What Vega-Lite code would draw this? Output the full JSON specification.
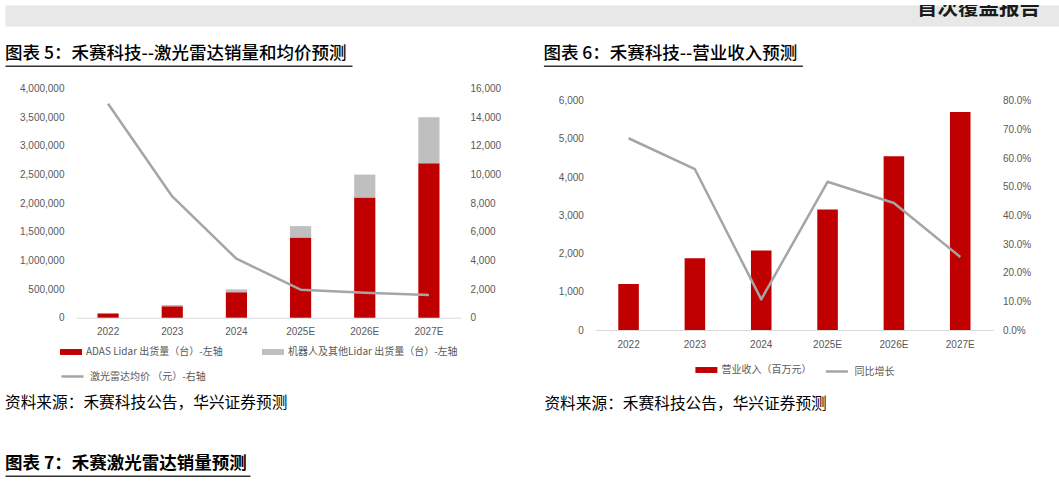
{
  "$schema": "https://vega.github.io/schema/vega-lite/v6.json",
  "background": "white",
  "padding": {"left": 5, "top": 5, "right": 0, "bottom": 0},
  "config": {
    "view": {"stroke": null},
    "font": "Noto Sans CJK SC",
    "title": {"font": "Noto Sans CJK SC", "fontSize": 17.5, "fontWeight": 500, "color": "#000000", "anchor": "start", "offset": 3},
    "axis": {"labelFont": "Liberation Sans", "labelFontSize": 10, "labelColor": "#595959", "ticks": false, "grid": false, "domain": false},
    "legend": {"labelFont": "Noto Sans CJK SC", "labelFontSize": 10, "labelColor": "#595959", "labelLimit": 400, "padding": 0}
  },
  "datasets": {
    "shipments": [
      {"year": "2022", "type": "ADAS Lidar 出货量（台）-左轴", "units": 75000},
      {"year": "2022", "type": "机器人及其他Lidar 出货量（台）-左轴", "units": 5500},
      {"year": "2023", "type": "ADAS Lidar 出货量（台）-左轴", "units": 200000},
      {"year": "2023", "type": "机器人及其他Lidar 出货量（台）-左轴", "units": 22000},
      {"year": "2024", "type": "ADAS Lidar 出货量（台）-左轴", "units": 445000},
      {"year": "2024", "type": "机器人及其他Lidar 出货量（台）-左轴", "units": 50000},
      {"year": "2025E", "type": "ADAS Lidar 出货量（台）-左轴", "units": 1400000},
      {"year": "2025E", "type": "机器人及其他Lidar 出货量（台）-左轴", "units": 200000},
      {"year": "2026E", "type": "ADAS Lidar 出货量（台）-左轴", "units": 2100000},
      {"year": "2026E", "type": "机器人及其他Lidar 出货量（台）-左轴", "units": 400000},
      {"year": "2027E", "type": "ADAS Lidar 出货量（台）-左轴", "units": 2700000},
      {"year": "2027E", "type": "机器人及其他Lidar 出货量（台）-左轴", "units": 800000}
    ],
    "price": [
      {"year": "2022", "series": "激光雷达均价 （元）-右轴", "price": 14950},
      {"year": "2023", "series": "激光雷达均价 （元）-右轴", "price": 8470},
      {"year": "2024", "series": "激光雷达均价 （元）-右轴", "price": 4120},
      {"year": "2025E", "series": "激光雷达均价 （元）-右轴", "price": 1955},
      {"year": "2026E", "series": "激光雷达均价 （元）-右轴", "price": 1750},
      {"year": "2027E", "series": "激光雷达均价 （元）-右轴", "price": 1580}
    ],
    "revenue": [
      {"year": "2022", "series": "营业收入（百万元）", "revenue": 1203},
      {"year": "2023", "series": "营业收入（百万元）", "revenue": 1877},
      {"year": "2024", "series": "营业收入（百万元）", "revenue": 2077},
      {"year": "2025E", "series": "营业收入（百万元）", "revenue": 3155},
      {"year": "2026E", "series": "营业收入（百万元）", "revenue": 4545},
      {"year": "2027E", "series": "营业收入（百万元）", "revenue": 5705}
    ],
    "growth": [
      {"year": "2022", "series": "同比增长", "growth": 0.669},
      {"year": "2023", "series": "同比增长", "growth": 0.561},
      {"year": "2024", "series": "同比增长", "growth": 0.107},
      {"year": "2025E", "series": "同比增长", "growth": 0.517},
      {"year": "2026E", "series": "同比增长", "growth": 0.443},
      {"year": "2027E", "series": "同比增长", "growth": 0.255}
    ]
  },
  "spacing": 18.7,
  "resolve": {"scale": {"color": "independent", "stroke": "independent"}},
  "vconcat": [
    {
      "width": 1054,
      "height": 21,
      "data": {"values": [{"label": "首次覆盖报告"}]},
      "mark": {"type": "text", "clip": true, "align": "right", "baseline": "alphabetic", "fontSize": 20.5, "fontWeight": "bold", "color": "#1a1a1a", "dx": -90, "dy": -11},
      "encoding": {
        "text": {"field": "label"},
        "x": {"datum": 1, "type": "quantitative", "scale": {"domain": [0, 1]}, "axis": {"orient": "top", "position": -71, "offset": -10.5, "domain": true, "domainColor": "#e8e8e8", "domainWidth": 21, "labels": false, "ticks": false, "grid": false, "title": null}},
        "y": {"value": "height"}
      }
    },
    {
      "spacing": 42.4,
      "resolve": {"scale": {"color": "independent", "stroke": "independent"}},
      "hconcat": [
        {
          "spacing": 0,
          "bounds": "flush",
          "vconcat": [
            {
              "width": 347,
              "height": 22.6,
              "title": {"text": "图表 5：禾赛科技--激光雷达销量和均价预测", "frame": "bounds"},
              "data": {"values": []},
              "mark": "point",
              "encoding": {"x": {"field": "v", "type": "quantitative", "scale": {"domain": [0, 1]}, "axis": {"orient": "top", "position": -71, "domain": true, "domainColor": "#333333", "domainWidth": 1.5, "labels": false, "ticks": false, "grid": false, "title": null}}}
            },
            {
              "width": 385,
              "height": 229,
              "layer": [
                {
                  "data": {"name": "shipments"},
                  "mark": {"type": "bar"},
                  "encoding": {
                    "x": {"field": "year", "type": "ordinal", "scale": {"paddingInner": 0.67, "paddingOuter": 0.335}, "axis": {"title": null, "labelAngle": 0, "domain": true, "domainColor": "#d9d9d9", "domainWidth": 1, "labelPadding": 9}},
                    "y": {"field": "units", "type": "quantitative", "stack": "zero", "scale": {"domain": [0, 4000000]}, "axis": {"orient": "left", "values": [0, 500000, 1000000, 1500000, 2000000, 2500000, 3000000, 3500000, 4000000], "format": ",.0f", "labelPadding": 12, "title": null}},
                    "order": {"field": "type", "sort": "ascending"},
                    "color": {"field": "type", "type": "nominal", "scale": {"domain": ["ADAS Lidar 出货量（台）-左轴", "机器人及其他Lidar 出货量（台）-左轴"], "range": ["#C00000", "#BFBFBF"]}, "legend": {"orient": "none", "legendX": -16, "legendY": 275.3, "direction": "horizontal", "title": null, "symbolType": "M-1,-0.27H1V0.27H-1Z", "symbolSize": 484, "symbolStrokeWidth": 0, "labelOffset": 4, "columnPadding": 39}}
                  }
                },
                {
                  "data": {"name": "price"},
                  "mark": {"type": "line", "strokeWidth": 2.5, "strokeJoin": "round"},
                  "encoding": {
                    "x": {"field": "year", "type": "ordinal"},
                    "y": {"field": "price", "type": "quantitative", "scale": {"domain": [0, 16000]}, "axis": {"orient": "right", "values": [0, 2000, 4000, 6000, 8000, 10000, 12000, 14000, 16000], "format": ",.0f", "labelPadding": 9, "title": null}},
                    "stroke": {"field": "series", "type": "nominal", "scale": {"range": ["#A5A5A5"]}, "legend": {"orient": "none", "legendX": -16, "legendY": 298.3, "title": null, "symbolType": "stroke", "symbolSize": 484, "symbolStrokeWidth": 2.5, "labelOffset": 5}}
                  }
                }
              ],
              "resolve": {"scale": {"y": "independent"}}
            },
            {
              "width": 10,
              "height": 1,
              "title": {"text": "资料来源：禾赛科技公告，华兴证券预测", "orient": "bottom", "frame": "group", "dx": -71, "fontSize": 15.7, "fontWeight": "normal", "offset": 77.5},
              "data": {"values": []},
              "mark": "point"
            },
            {
              "width": 10,
              "height": 156.7,
              "data": {"values": []},
              "mark": "point"
            },
            {
              "width": 245,
              "height": 1,
              "title": {"text": "图表 7：禾赛激光雷达销量预测", "fontWeight": "bold", "frame": "bounds"},
              "data": {"values": []},
              "mark": "point",
              "encoding": {"x": {"field": "v", "type": "quantitative", "scale": {"domain": [0, 1]}, "axis": {"orient": "top", "position": -71, "domain": true, "domainColor": "#333333", "domainWidth": 1.5, "labels": false, "ticks": false, "grid": false, "title": null}}}
            }
          ]
        },
        {
          "spacing": 0,
          "bounds": "flush",
          "vconcat": [
            {
              "width": 259,
              "height": 35,
              "title": {"text": "图表 6：禾赛科技--营业收入预测", "frame": "bounds"},
              "data": {"values": []},
              "mark": "point",
              "encoding": {"x": {"field": "v", "type": "quantitative", "scale": {"domain": [0, 1]}, "axis": {"orient": "top", "position": -52, "domain": true, "domainColor": "#333333", "domainWidth": 1.5, "labels": false, "ticks": false, "grid": false, "title": null}}}
            },
            {
              "width": 398,
              "height": 229.3,
              "layer": [
                {
                  "data": {"name": "revenue"},
                  "mark": {"type": "bar"},
                  "encoding": {
                    "x": {"field": "year", "type": "ordinal", "scale": {"paddingInner": 0.69, "paddingOuter": 0.345}, "axis": {"title": null, "labelAngle": 0, "domain": true, "domainColor": "#d9d9d9", "domainWidth": 1, "labelPadding": 9}},
                    "y": {"field": "revenue", "type": "quantitative", "scale": {"domain": [0, 6000]}, "axis": {"orient": "left", "values": [0, 1000, 2000, 3000, 4000, 5000, 6000], "format": ",.0f", "labelPadding": 12, "title": null}},
                    "color": {"field": "series", "type": "nominal", "scale": {"range": ["#C00000"]}, "legend": {"orient": "none", "legendX": 100, "legendY": 293.3, "title": null, "symbolType": "M-1,-0.27H1V0.27H-1Z", "symbolSize": 484, "symbolStrokeWidth": 0, "labelOffset": 4}}
                  }
                },
                {
                  "data": {"name": "growth"},
                  "mark": {"type": "line", "strokeWidth": 2.5, "strokeJoin": "round"},
                  "encoding": {
                    "x": {"field": "year", "type": "ordinal"},
                    "y": {"field": "growth", "type": "quantitative", "scale": {"domain": [0, 0.8]}, "axis": {"orient": "right", "values": [0, 0.1, 0.2, 0.3, 0.4, 0.5, 0.6, 0.7, 0.8], "format": ".1%", "labelPadding": 9, "title": null}},
                    "stroke": {"field": "series", "type": "nominal", "scale": {"range": ["#A5A5A5"]}, "legend": {"orient": "none", "legendX": 229, "legendY": 293.3, "title": null, "symbolType": "stroke", "symbolSize": 484, "symbolStrokeWidth": 2.5, "labelOffset": 5}}
                  }
                }
              ],
              "resolve": {"scale": {"y": "independent"}}
            },
            {
              "width": 10,
              "height": 1,
              "title": {"text": "资料来源：禾赛科技公告，华兴证券预测", "orient": "bottom", "frame": "group", "dx": -51, "fontSize": 15.7, "fontWeight": "normal", "offset": 64.8},
              "data": {"values": []},
              "mark": "point"
            }
          ]
        }
      ]
    }
  ]
}
